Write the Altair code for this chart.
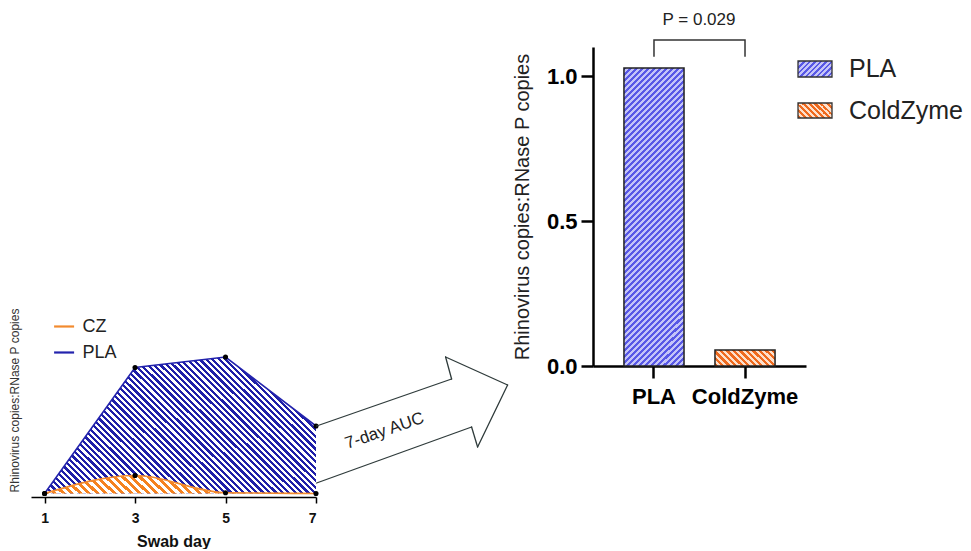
import altair as alt
import pandas as pd

# ---------------- data ----------------
days = [1, 3, 5, 7]
pla_curve = [0.0, 0.84, 0.91, 0.45]
cz_curve = [0.0, 0.12, 0.005, 0.0]
series_names = ["CZ", "PLA"]
groups = ["PLA", "ColdZyme"]
auc = [1.028, 0.055]
p_label = "P = 0.029"
bracket_low = 1.066
bracket_high = 1.124
p_label_y = 1.193
left_x_ticks = [1, 3, 5, 7]
right_y_ticks = [0.0, 0.5, 1.0]

FONT = "Liberation Sans"
ORANGE_LINE = "#f28a2e"
BLUE_LINE = "#2323ad"


def hatch(bg, fg, W, H, period, direction, duty=0.5):
    """Striped fill built from a hard-stop linear gradient (bbox units)."""
    L = W + H
    n = L / period
    s = W * W + H * H
    gx = L * W / s
    gy = L * H / s
    if direction == "/":
        x1, y1, x2, y2 = 0, 0, gx, gy
    else:
        x1, y1, x2, y2 = 0, 1, gx, 1 - gy
    stops = []
    k = 0
    while k / n < 1:
        a = k / n
        b = min((k + duty) / n, 1.0)
        c = min((k + 1) / n, 1.0)
        stops += [
            alt.GradientStop(color=bg, offset=a),
            alt.GradientStop(color=bg, offset=b),
            alt.GradientStop(color=fg, offset=b),
            alt.GradientStop(color=fg, offset=c),
        ]
        k += 1
    return alt.LinearGradient(gradient="linear", stops=stops,
                              x1=x1, y1=y1, x2=x2, y2=y2)


# ---------------- left panel: daily curves ----------------
LW, LH = 285, 450
curve_df = pd.DataFrame({
    "day": days * 2,
    "value": cz_curve + pla_curve,
    "series": ["CZ"] * len(days) + ["PLA"] * len(days),
})

xl = alt.X("day:Q",
           scale=alt.Scale(domain=[0.7, 7], nice=False, zero=False),
           axis=alt.Axis(values=left_x_ticks, title="Swab day", grid=False,
                         format="d",
                         domainColor="black", domainWidth=1.5,
                         tickColor="black", tickWidth=1.5, tickSize=6,
                         labelFontSize=14, labelFontWeight="bold",
                         labelColor="#111", labelPadding=8,
                         titleFontSize=16, titleFontWeight="bold",
                         titleColor="#111", titlePadding=8))
yl = alt.Y("value:Q",
           scale=alt.Scale(domain=[-0.0233, 2.9767], nice=False, zero=False),
           axis=alt.Axis(title="Rhinovirus copies:RNase P copies",
                         labels=False, ticks=False, domain=False, grid=False,
                         titleY=353, titlePadding=9.5, titleFontSize=12,
                         titleFontWeight="normal", titleColor="#333"))

base = alt.Chart(curve_df)
pla_area = base.transform_filter("datum.series == 'PLA'").mark_area(
    fill=hatch("#1f1fa8", "#ffffff", 271, 137, 6.4, "\\"),
    fillOpacity=1, interpolate="linear").encode(x=xl, y=yl)
cz_area = base.transform_filter("datum.series == 'CZ'").mark_area(
    fill=hatch("#f5821f", "#ffffff", 271, 19, 8.5, "\\"),
    fillOpacity=1, interpolate="monotone").encode(x=xl, y=yl)

color_enc = alt.Color("series:N",
                      scale=alt.Scale(domain=series_names,
                                      range=[ORANGE_LINE, BLUE_LINE]),
                      legend=alt.Legend(orient="none", legendX=21.6,
                                        legendY=268, title=None,
                                        symbolType="stroke", symbolSize=400,
                                        symbolStrokeWidth=2.2,
                                        labelFontSize=18, labelOffset=7,
                                        labelColor="#222", rowPadding=5,
                                        padding=0))
pla_line = base.transform_filter("datum.series == 'PLA'").mark_line(
    strokeWidth=1.6, interpolate="linear").encode(x=xl, y=yl, color=color_enc)
cz_line = base.transform_filter("datum.series == 'CZ'").mark_line(
    strokeWidth=1.6, interpolate="monotone").encode(x=xl, y=yl, color=color_enc)
pts = base.mark_circle(size=26, color="black", opacity=1).encode(x=xl, y=yl)

# big outlined arrow "7-day AUC" (annotation, pixel geometry)
OX, OY = 31.4, 47.0
arrow_pts = [(317, 426), (452, 379), (446, 357), (508, 385),
             (478, 447), (472, 427), (317, 483)]
one = alt.Data(values=[{}])
arrow_layers = []
for (ax, ay), (bx, by) in zip(arrow_pts[:-1], arrow_pts[1:]):
    arrow_layers.append(
        alt.Chart(one).mark_rule(color="#2f3b3b", strokeWidth=1.3,
                                 strokeCap="round").encode(
            x=alt.value(ax - OX), y=alt.value(ay - OY),
            x2=alt.value(bx - OX), y2=alt.value(by - OY)))
arrow_text = alt.Chart(one).mark_text(
    text="7-day AUC", angle=341, fontSize=17, color="#222").encode(
    x=alt.value(385 - OX), y=alt.value(431 - OY))

left = alt.layer(pla_area, cz_area, pla_line, cz_line, pts,
                 *arrow_layers, arrow_text).properties(width=LW, height=LH)

# ---------------- right panel: AUC bars ----------------
RW, RH = 213, 319
bar_df = pd.DataFrame({"group": groups, "auc": auc})

xr = alt.X("group:N", sort=groups,
           scale=alt.Scale(domain=groups, paddingInner=0.34, paddingOuter=0.34),
           axis=alt.Axis(title=None, labelAngle=0, labelFontSize=22,
                         labelFontWeight="bold", labelColor="black",
                         tickSize=12, tickWidth=2.5, tickColor="black",
                         domainWidth=2.5, domainColor="black",
                         labelPadding=8, grid=False))
yr = alt.Y("auc:Q", scale=alt.Scale(domain=[0, 1.1], nice=False),
           axis=alt.Axis(values=right_y_ticks, format=".1f",
                         title="Rhinovirus copies:RNase P copies",
                         titleFontSize=20, titleFontWeight="normal",
                         titleColor="#222", titlePadding=14,
                         labelFontSize=22, labelFontWeight="bold",
                         labelColor="black", labelPadding=4,
                         tickSize=12, tickWidth=2.5, tickColor="black",
                         domainWidth=2.5, domainColor="black", grid=False))

bars_base = alt.Chart(bar_df)
bar_pla = bars_base.transform_filter("datum.group == 'PLA'").mark_bar(
    fill=hatch("#5858e6", "#c4c4f8", 60, 298, 6.0, "/"), fillOpacity=1,
    stroke="#222", strokeWidth=1.5).encode(x=xr, y=yr)
bar_cz = bars_base.transform_filter("datum.group == 'ColdZyme'").mark_bar(
    fill=hatch("#ef6a1e", "#fde0cc", 60, 16, 6.5, "\\"), fillOpacity=1,
    stroke="#222", strokeWidth=1.5).encode(x=xr, y=yr)

bracket_df = pd.DataFrame({
    "group": [groups[0], groups[0], groups[1], groups[1]],
    "auc": [bracket_low, bracket_high, bracket_high, bracket_low],
    "k": [0, 1, 2, 3],
})
bracket = alt.Chart(bracket_df).mark_line(color="#333", strokeWidth=1.5).encode(
    x=alt.X("group:N", sort=groups), y="auc:Q", order="k:Q")
p_text = alt.Chart(alt.Data(values=[{"auc": p_label_y}])).mark_text(
    text=p_label, fontSize=17, color="#222").encode(
    x=alt.value(106), y="auc:Q")

# legend (hatched swatches)
leg_swatch_pla = alt.Chart(one).mark_rect(
    fill=hatch("#5858e6", "#c4c4f8", 34, 16, 5.5, "/"),
    stroke="#333", strokeWidth=1.3).encode(
    x=alt.value(205), x2=alt.value(239), y=alt.value(14), y2=alt.value(30))
leg_swatch_cz = alt.Chart(one).mark_rect(
    fill=hatch("#ef6a1e", "#fde0cc", 34, 15, 6.0, "\\"),
    stroke="#333", strokeWidth=1.3).encode(
    x=alt.value(205), x2=alt.value(239), y=alt.value(56), y2=alt.value(71))
leg_text_pla = alt.Chart(one).mark_text(
    text=groups[0], fontSize=25, align="left", baseline="middle",
    color="#222").encode(x=alt.value(256), y=alt.value(22))
leg_text_cz = alt.Chart(one).mark_text(
    text=groups[1], fontSize=25, align="left", baseline="middle",
    color="#222").encode(x=alt.value(256), y=alt.value(64))

right = alt.layer(bar_pla, bar_cz, bracket, p_text,
                  leg_swatch_pla, leg_swatch_cz, leg_text_pla, leg_text_cz
                  ).properties(width=RW, height=RH)

chart = alt.hconcat(left, right, spacing=3).resolve_legend(
    color="independent").configure(
    font=FONT,
    padding={"left": 0, "top": 3, "right": 0, "bottom": 0},
).configure_view(stroke=None)

chart.save("out.html", embed_options={"renderer": "svg", "actions": False})
